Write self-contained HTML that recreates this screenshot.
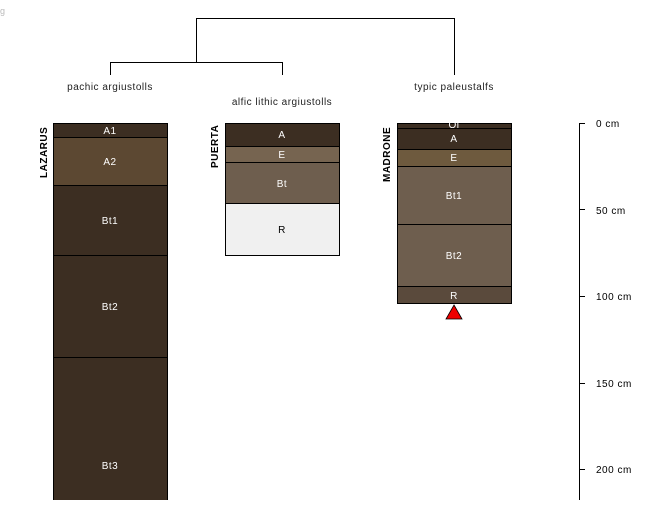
<!DOCTYPE html>
<html><head><style>body{margin:0;background:#fff}</style></head><body>
<svg width="650" height="500" xmlns="http://www.w3.org/2000/svg" font-family="Liberation Sans, sans-serif" font-size="10" letter-spacing="0.5">
<text x="0" y="14" fill="#bbb" font-size="9">g</text>
<g stroke="#000" stroke-width="1" fill="none">
<path d="M196.5 62V18.5H454.5V75"/>
<path d="M110.5 75V62.5H282.5V75"/>
</g>
<g fill="#222" text-anchor="middle">
<text x="110" y="90">pachic argiustolls</text>
<text x="282" y="105">alfic lithic argiustolls</text>
<text x="454" y="90">typic paleustalfs</text>
</g>
<g stroke="#000" stroke-width="1">
<rect x="53.5" y="123.5" width="114" height="14" fill="#3c2e22"/>
<rect x="53.5" y="137.5" width="114" height="48" fill="#5c4832"/>
<rect x="53.5" y="185.5" width="114" height="70" fill="#3c2e22"/>
<rect x="53.5" y="255.5" width="114" height="102" fill="#3c2e22"/>
<rect x="53.5" y="357.5" width="114" height="150" fill="#3c2e22"/>
<rect x="225.5" y="123.5" width="114" height="23" fill="#3c2e22"/>
<rect x="225.5" y="146.5" width="114" height="16" fill="#766450"/>
<rect x="225.5" y="162.5" width="114" height="41" fill="#6e5e4e"/>
<rect x="225.5" y="203.5" width="114" height="52" fill="#f0f0f0"/>
<rect x="397.5" y="123.5" width="114" height="5" fill="#3c2e22"/>
<rect x="397.5" y="128.5" width="114" height="21" fill="#3c2e22"/>
<rect x="397.5" y="149.5" width="114" height="17" fill="#6e5a3e"/>
<rect x="397.5" y="166.5" width="114" height="58" fill="#6e5e4e"/>
<rect x="397.5" y="224.5" width="114" height="62" fill="#6e5e4e"/>
<rect x="397.5" y="286.5" width="114" height="17" fill="#5a4a3c"/>
</g>
<polygon points="454,305 462,319 446,319" fill="#e00" stroke="#000" stroke-width="0.8"/>
<g fill="#fff" text-anchor="middle">
<text x="110" y="134">A1</text>
<text x="110" y="165">A2</text>
<text x="110" y="224">Bt1</text>
<text x="110" y="310">Bt2</text>
<text x="110" y="469">Bt3</text>
<text x="282" y="138">A</text>
<text x="282" y="158">E</text>
<text x="282" y="187">Bt</text>
<text x="282" y="233" fill="#000">R</text>
<text x="454" y="128">Oi</text>
<text x="454" y="142">A</text>
<text x="454" y="161">E</text>
<text x="454" y="199">Bt1</text>
<text x="454" y="259">Bt2</text>
<text x="454" y="299">R</text>
</g>
<g font-weight="bold" fill="#000">
<text transform="translate(47,178) rotate(-90)">LAZARUS</text>
<text transform="translate(218,168) rotate(-90)">PUERTA</text>
<text transform="translate(390,182) rotate(-90)">MADRONE</text>
</g>
<g stroke="#000" stroke-width="1">
<path d="M579.5 123V500"/>
<path d="M579 123.5H585M579 209.5H585M579 296.5H585M579 383.5H585M579 469.5H585"/>
</g>
<g fill="#000">
<text x="596" y="127">0 cm</text>
<text x="596" y="214">50 cm</text>
<text x="596" y="300">100 cm</text>
<text x="596" y="387">150 cm</text>
<text x="596" y="473">200 cm</text>
</g>
</svg>
</body></html>
